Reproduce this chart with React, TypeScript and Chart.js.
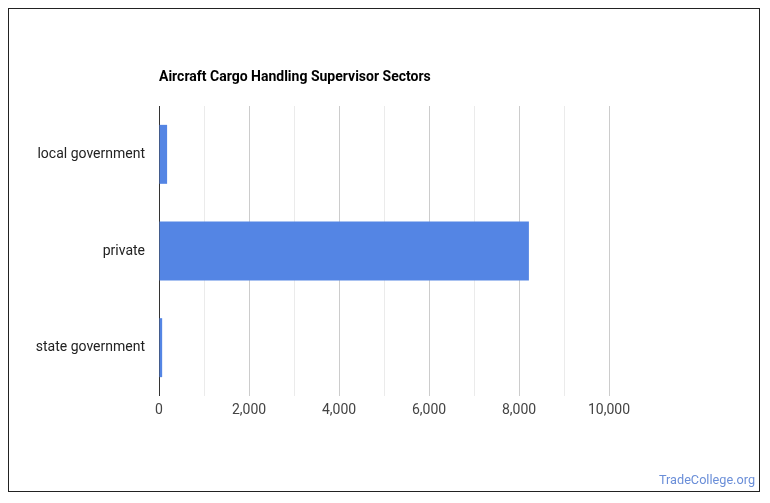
import React, { useEffect, useRef } from "react";
import { Chart, registerables } from "chart.js";

Chart.register(...registerables);

const categories = ["local government", "private", "state government"];
const values = [180, 8220, 70];
const tickValues = [0, 2000, 4000, 6000, 8000, 10000];
const chartTitle = "Aircraft Cargo Handling Supervisor Sectors";
const watermark = "TradeCollege.org";

const textPlugin = {
  id: "textPlugin",
  afterDraw(chart: any) {
    const ctx = chart.ctx;
    ctx.save();
    ctx.fillStyle = "#000";
    ctx.font = "bold 14px Roboto";
    ctx.textAlign = "left";
    ctx.textBaseline = "middle";
    ctx.fillText(chartTitle, chart.chartArea.left, 68);
    ctx.fillStyle = "#6a8ed8";
    ctx.font = "12.7px Roboto";
    ctx.textAlign = "right";
    ctx.fillText(watermark, chart.width - 4, 472);
    ctx.restore();
  },
};

export default function App() {
  const ref = useRef<HTMLCanvasElement>(null);
  useEffect(() => {
    const chart = new Chart(ref.current!, {
      type: "bar",
      data: {
        labels: categories,
        datasets: [
          {
            data: values,
            backgroundColor: "#5485e4",
            borderWidth: 0,
            barPercentage: 0.61,
            categoryPercentage: 1,
          },
        ],
      },
      options: {
        indexAxis: "y",
        animation: false,
        responsive: false,
        maintainAspectRatio: false,
        layout: { padding: { left: 0, right: 150, top: 97, bottom: 65 } },
        plugins: { legend: { display: false }, title: { display: false }, tooltip: { enabled: false } },
        scales: {
          x: {
            min: 0,
            max: 10000,
            afterFit: (s: any) => {
              s.height = 30;
            },
            afterBuildTicks: (s: any) => {
              const t = [];
              for (let v = 0; v <= 10000; v += 1000) t.push({ value: v });
              s.ticks = t;
            },
            ticks: {
              autoSkip: false,
              maxRotation: 0,
              padding: 6,
              color: "#444",
              font: { family: "Roboto", size: 14 },
              callback: (v: any) => (tickValues.includes(Number(v)) ? Number(v).toLocaleString("en-US") : ""),
            },
            grid: {
              drawTicks: false,
              color: (c: any) => {
                const v = c.tick ? c.tick.value : 0;
                if (v === 0) return "#333";
                return v % 2000 === 0 ? "#cccccc" : "#ebebeb";
              },
            },
            border: { display: false },
          },
          y: {
            afterFit: (s: any) => {
              s.width = 150;
            },
            ticks: {
              padding: 14,
              color: "#222",
              font: { family: "Roboto", size: 14 },
            },
            grid: { display: false, drawTicks: false },
            border: { display: false },
          },
        },
      },
      plugins: [textPlugin],
    });
    return () => chart.destroy();
  }, []);
  return (
    <div
      style={{
        width: 752,
        height: 484,
        border: "1px solid #222",
        boxSizing: "border-box",
        background: "#fff",
      }}
    >
      <canvas ref={ref} width={750} height={482} style={{ display: "block" }} />
    </div>
  );
}
